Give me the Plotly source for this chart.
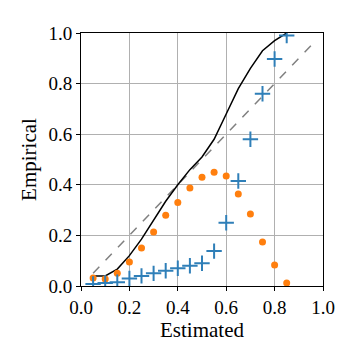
import plotly.graph_objects as go

# bin centres on the estimated axis
estimated = [0.05, 0.10, 0.15, 0.20, 0.25, 0.30, 0.35, 0.40, 0.45,
             0.50, 0.55, 0.60, 0.65, 0.70, 0.75, 0.80, 0.85]

# black calibration curve
empirical_curve = [0.04, 0.04, 0.067, 0.12, 0.185, 0.26, 0.335, 0.40, 0.46,
                   0.51, 0.58, 0.68, 0.78, 0.86, 0.93, 0.97, 1.0]

# orange dots
orange_vals = [0.032, 0.028, 0.05, 0.095, 0.15, 0.213, 0.28, 0.33, 0.387,
               0.43, 0.45, 0.435, 0.364, 0.285, 0.174, 0.083, 0.012]

# blue plus markers
blue_vals = [0.008, 0.012, 0.015, 0.03, 0.04, 0.05, 0.06, 0.07, 0.08,
             0.09, 0.138, 0.25, 0.415, 0.58, 0.76, 0.897, 0.99]

diag = [0.05, 0.95]

font_family = "Liberation Serif"

fig = go.Figure()

fig.add_trace(go.Scatter(
    x = diag, y = diag, mode = "lines",
    line = dict(color = "gray", width = 1.5, dash = "dash"),
    showlegend = False
))

fig.add_trace(go.Scatter(
    x = estimated, y = empirical_curve, mode = "lines",
    line = dict(color = "black", width = 1.5),
    showlegend = False
))

fig.add_trace(go.Scatter(
    x = estimated, y = orange_vals, mode = "markers",
    marker = dict(color = "#ff7f0e", size = 7, line = dict(width = 0)),
    showlegend = False
))

fig.add_trace(go.Scatter(
    x = estimated, y = blue_vals, mode = "markers",
    marker = dict(symbol = "cross-thin", size = 11, line = dict(color = "#2f7fb8", width = 2)),
    showlegend = False
))

fig.update_layout(
    width = 360,
    height = 360,
    margin = dict(l = 81, r = 37, t = 33, b = 74),
    paper_bgcolor = "white",
    plot_bgcolor = "white",
    font = dict(family = font_family, color = "black", size = 19),
)

ticks = [0, 0.2, 0.4, 0.6, 0.8, 1.0]
tick_labels = ["0.0", "0.2", "0.4", "0.6", "0.8", "1.0"]

fig.update_xaxes(
    range = [0, 1],
    tickvals = ticks, ticktext = tick_labels,
    showgrid = True, gridcolor = "#b0b0b0", gridwidth = 1,
    showline = True, linecolor = "black", linewidth = 1, mirror = True,
    ticks = "outside", ticklen = 4, tickcolor = "black",
    zeroline = False, automargin = False,
    title = dict(text = "Estimated", font = dict(size = 21), standoff = 4),
    tickfont = dict(size = 19),
)

fig.update_yaxes(
    range = [0, 1],
    tickvals = ticks, ticktext = tick_labels,
    showgrid = True, gridcolor = "#b0b0b0", gridwidth = 1,
    showline = True, linecolor = "black", linewidth = 1, mirror = True,
    ticks = "outside", ticklen = 4, tickcolor = "black",
    zeroline = False, automargin = False,
    title = dict(text = "Empirical", font = dict(size = 21), standoff = 6),
    tickfont = dict(size = 19),
)

fig.write_html(
    "out.html",
    config = {"responsive": False, "displayModeBar": False},
    post_script = "document.body.style.margin = '0';"
)
